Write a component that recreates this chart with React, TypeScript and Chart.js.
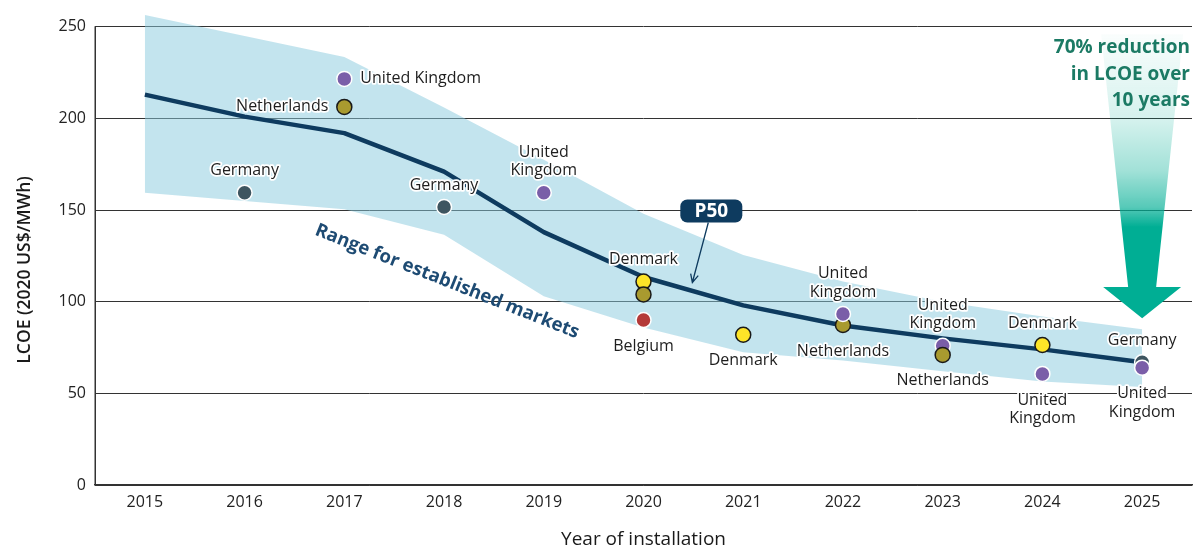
import React, { useEffect, useRef } from "react";
import { Chart, registerables } from "chart.js";

Chart.register(...registerables);

// ---------- data ----------
const years = [2015, 2016, 2017, 2018, 2019, 2020, 2021, 2022, 2023, 2024, 2025];
const p50 = [213, 201, 192, 171, 138, 113.5, 98, 87, 80, 74, 67];
const bandHigh = [256.5, 245, 233.5, 206, 177.5, 148, 125.5, 111, 100, 92, 85];
const bandLow = [159.5, 155, 150.5, 136.5, 103, 86, 72.5, 68, 62, 56.5, 53.5];
const yTickValues = [0, 50, 100, 150, 200, 250];

const pointYears = [2016, 2017, 2017, 2018, 2019, 2020, 2020, 2020, 2021, 2022, 2022, 2023, 2023, 2024, 2024, 2025, 2025];
const pointValues = [159.5, 221.6, 206.3, 151.7, 159.5, 111, 104, 90, 82, 87.3, 93.3, 76, 71, 76.4, 60.6, 67, 64];
const pointCountries = [
  "Germany", "United Kingdom", "Netherlands", "Germany", "United Kingdom",
  "Denmark", "Netherlands", "Belgium", "Denmark", "Netherlands", "United Kingdom",
  "United Kingdom", "Netherlands", "Denmark", "United Kingdom", "Germany", "United Kingdom",
];
const labelSides = [
  "above", "right", "left", "above", "above",
  "above", "none", "below", "below", "below", "above",
  "above", "below", "above", "below", "above", "below",
];

const xTitle = "Year of installation";
const yTitle = "LCOE (2020 US$/MWh)";
const rangeText = "Range for established markets";
const p50Text = "P50";
const reductionLines = ["70% reduction", "in LCOE over", "10 years"];

// ---------- styles ----------
const FONT = "'Open Sans', 'Noto Sans', sans-serif";
const countryColors: Record<string, string> = {
  Germany: "#3e5560",
  "United Kingdom": "#7a5ea8",
  Netherlands: "#a99a2f",
  Denmark: "#fde428",
  Belgium: "#b43a39",
};
const countryBorders: Record<string, string> = {
  Germany: "#ffffff",
  "United Kingdom": "#ffffff",
  Netherlands: "#1a1a1a",
  Denmark: "#1a1a1a",
  Belgium: "#ffffff",
};
const NAVY = "#0e3b5f";
const AXIS = "#333333";

const annotationPlugin = {
  id: "customAnnotations",
  beforeDatasetsDraw(chart: any) {
    // left axis line from 0 to 250 only
    const ctx: CanvasRenderingContext2D = chart.ctx;
    const xs = chart.scales.x;
    const ys = chart.scales.y;
    ctx.save();
    ctx.strokeStyle = AXIS;
    ctx.lineWidth = 1.5;
    ctx.beginPath();
    const lx = Math.round(xs.left) + 0.25;
    ctx.moveTo(lx, ys.getPixelForValue(250) - 0.5);
    ctx.lineTo(lx, ys.getPixelForValue(0));
    ctx.stroke();
    ctx.restore();
  },
  afterDatasetsDraw(chart: any) {
    const ctx: CanvasRenderingContext2D = chart.ctx;
    const xs = chart.scales.x;
    const ys = chart.scales.y;

    // range text
    ctx.save();
    ctx.translate(xs.getPixelForValue(2018.03), ys.getPixelForValue(111));
    ctx.rotate((21.6 * Math.PI) / 180);
    ctx.font = `bold 18.5px ${FONT}`;
    ctx.fillStyle = "#1e4b73";
    ctx.textAlign = "center";
    ctx.textBaseline = "middle";
    ctx.fillText(rangeText, 0, 0);
    ctx.restore();

    // point labels
    ctx.save();
    ctx.font = `16px ${FONT}`;
    ctx.lineJoin = "round";
    ctx.textBaseline = "middle";
    const lh = 18.5;
    pointYears.forEach((yr, i) => {
      const side = labelSides[i];
      if (side === "none") return;
      const name = pointCountries[i];
      const px = xs.getPixelForValue(yr);
      const py = ys.getPixelForValue(pointValues[i]);
      const lines = (side === "above" || side === "below") && name === "United Kingdom" ? ["United", "Kingdom"] : [name];
      const draw = (t: string, x: number, y: number) => {
        ctx.strokeStyle = "#ffffff";
        ctx.lineWidth = 3.5;
        ctx.strokeText(t, x, y);
        ctx.fillStyle = "#1e1e1e";
        ctx.fillText(t, x, y);
      };
      if (side === "right") {
        ctx.textAlign = "left";
        draw(lines[0], px + 16, py);
      } else if (side === "left") {
        ctx.textAlign = "right";
        draw(lines[0], px - 16, py);
      } else if (side === "above") {
        ctx.textAlign = "center";
        const base = py - 22;
        lines.forEach((t, k) => draw(t, px, base - (lines.length - 1 - k) * lh));
      } else {
        ctx.textAlign = "center";
        const base = py + 26;
        lines.forEach((t, k) => draw(t, px, base + k * lh));
      }
    });
    ctx.restore();

    // P50 callout
    ctx.save();
    const bx = xs.getPixelForValue(2020.68);
    const by = ys.getPixelForValue(149.5);
    const bw = 62, bh = 23;
    ctx.fillStyle = NAVY;
    ctx.beginPath();
    (ctx as any).roundRect(bx - bw / 2, by - bh / 2, bw, bh, 7);
    ctx.fill();
    ctx.fillStyle = "#ffffff";
    ctx.font = `bold 19px ${FONT}`;
    ctx.textAlign = "center";
    ctx.textBaseline = "middle";
    ctx.fillText(p50Text, bx, by + 1);
    const ax0 = bx - 3, ay0 = by + bh / 2;
    const ax1 = xs.getPixelForValue(2020.49), ay1 = ys.getPixelForValue(110.5);
    ctx.strokeStyle = NAVY;
    ctx.lineWidth = 1.3;
    ctx.beginPath();
    ctx.moveTo(ax0, ay0);
    ctx.lineTo(ax1, ay1);
    const ang = Math.atan2(ay1 - ay0, ax1 - ax0);
    const hl = 9;
    ctx.moveTo(ax1 - hl * Math.cos(ang - 0.45), ay1 - hl * Math.sin(ang - 0.45));
    ctx.lineTo(ax1, ay1);
    ctx.lineTo(ax1 - hl * Math.cos(ang + 0.45), ay1 - hl * Math.sin(ang + 0.45));
    ctx.stroke();
    ctx.restore();

    // reduction arrow
    ctx.save();
    const cx = xs.getPixelForValue(2025);
    const yTop = ys.getPixelForValue(246);
    const yShaft = ys.getPixelForValue(108);
    const yTip = ys.getPixelForValue(91);
    const g = ctx.createLinearGradient(0, yTop, 0, yTip);
    const span = yTip - yTop;
    const st = (y: number) => Math.min(1, Math.max(0, (y - yTop) / span));
    g.addColorStop(0, "rgba(0,174,148,0.02)");
    g.addColorStop(st(120), "rgba(0,174,148,0.17)");
    g.addColorStop(st(170), "rgba(0,174,148,0.36)");
    g.addColorStop(st(207), "rgba(0,174,148,0.66)");
    g.addColorStop(st(227), "rgba(0,174,148,1)");
    g.addColorStop(1, "rgba(0,174,148,1)");
    ctx.fillStyle = g;
    ctx.beginPath();
    ctx.moveTo(cx - 41, yTop);
    ctx.lineTo(cx + 41, yTop);
    ctx.lineTo(cx + 14, yShaft);
    ctx.lineTo(cx + 39, yShaft);
    ctx.lineTo(cx, yTip);
    ctx.lineTo(cx - 39, yShaft);
    ctx.lineTo(cx - 14, yShaft);
    ctx.closePath();
    ctx.fill();
    ctx.font = `bold 19px ${FONT}`;
    ctx.fillStyle = "#1b7a64";
    ctx.textAlign = "right";
    ctx.textBaseline = "middle";
    reductionLines.forEach((t, k) => ctx.fillText(t, 1190, 48 + k * 26.5));
    ctx.restore();
  },
  afterDraw(chart: any) {
    const ctx: CanvasRenderingContext2D = chart.ctx;
    const area = chart.chartArea;
    const ys = chart.scales.y;
    ctx.save();
    ctx.fillStyle = "#1a1a1a";
    ctx.textAlign = "center";
    ctx.textBaseline = "middle";
    ctx.font = `19px ${FONT}`;
    ctx.fillText(xTitle, (area.left + area.right) / 2, 540);
    ctx.font = `600 17.5px ${FONT}`;
    ctx.translate(25, (ys.getPixelForValue(250) + ys.getPixelForValue(0)) / 2 + 14);
    ctx.rotate(-Math.PI / 2);
    ctx.fillText(yTitle, 0, 0);
    ctx.restore();
  },
};

export default function App() {
  const ref = useRef<HTMLCanvasElement | null>(null);

  useEffect(() => {
    document.body.style.margin = "0";
    const canvas = ref.current;
    if (!canvas) return;
    const chart = new Chart(canvas, {
      type: "line",
      data: {
        datasets: [
          {
            type: "scatter",
            label: "Projects",
            data: pointYears.map((x, i) => ({ x, y: pointValues[i] })),
            pointRadius: 7.5,
            pointHoverRadius: 7.5,
            pointBackgroundColor: pointCountries.map((c) => countryColors[c]),
            pointBorderColor: pointCountries.map((c) => countryBorders[c]),
            pointBorderWidth: 1.5,
            showLine: false,
          } as any,
          {
            label: "P50",
            data: years.map((x, i) => ({ x, y: p50[i] })),
            borderColor: NAVY,
            borderWidth: 4.5,
            pointRadius: 0,
            fill: false,
            tension: 0,
            borderJoinStyle: "round",
          },
          {
            label: "High",
            data: years.map((x, i) => ({ x, y: bandHigh[i] })),
            borderWidth: 0,
            borderColor: "rgba(0,0,0,0)",
            pointRadius: 0,
            backgroundColor: "rgba(135,201,221,0.5)",
            fill: "+1",
            tension: 0,
          },
          {
            label: "Low",
            data: years.map((x, i) => ({ x, y: bandLow[i] })),
            borderWidth: 0,
            borderColor: "rgba(0,0,0,0)",
            pointRadius: 0,
            fill: false,
            tension: 0,
          },
        ],
      },
      options: {
        responsive: false,
        animation: false,
        layout: { autoPadding: false, padding: { top: 14, right: 2, left: 0, bottom: 0 } },
        plugins: {
          legend: { display: false },
          tooltip: { enabled: false },
          title: { display: false },
        },
        scales: {
          x: {
            type: "linear",
            min: 2014.5,
            max: 2025.5,
            afterBuildTicks: (s: any) => {
              s.ticks = years.map((v) => ({ value: v }));
            },
            afterFit: (s: any) => {
              s.height = 62;
              s.paddingLeft = 0;
              s.paddingRight = 0;
            },
            grid: { display: false, drawTicks: false },
            border: { display: true, color: AXIS, width: 1.5 },
            ticks: {
              padding: 8,
              color: "#222222",
              font: { family: FONT, size: 16 },
              callback: (v: any) => String(v),
              maxRotation: 0,
              autoSkip: false,
            },
          },
          y: {
            min: 0,
            max: 257,
            afterBuildTicks: (s: any) => {
              s.ticks = yTickValues.map((v) => ({ value: v }));
            },
            afterFit: (s: any) => {
              s.width = 95;
              s.paddingTop = 0;
              s.paddingBottom = 0;
            },
            grid: { color: AXIS, lineWidth: 1, drawTicks: false },
            border: { display: false },
            ticks: {
              padding: 9,
              color: "#222222",
              font: { family: FONT, size: 16 },
              callback: (v: any) => String(v),
            },
          },
        },
      },
      plugins: [annotationPlugin],
    });
    return () => chart.destroy();
  }, []);

  return (
    <div style={{ position: "absolute", left: 0, top: 0, width: 1194, height: 547, background: "#ffffff" }}>
      <canvas ref={ref} width={1194} height={547} style={{ display: "block" }} />
    </div>
  );
}
